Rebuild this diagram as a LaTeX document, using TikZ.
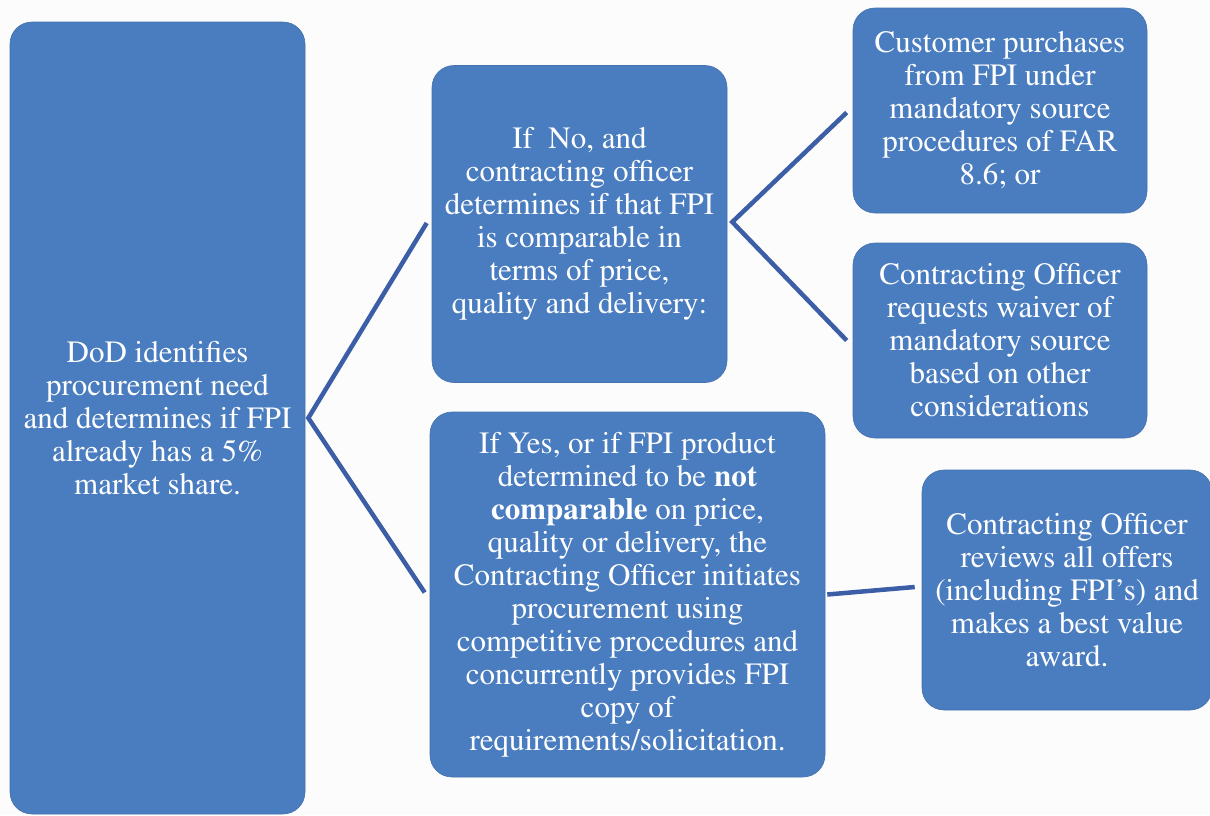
\documentclass[tikz,border=0pt]{standalone}
\usepackage[T1]{fontenc}
\usepackage{times}
\begin{document}
\definecolor{boxblue}{HTML}{4A7DBF}
\definecolor{linkblue}{HTML}{3C5EA6}
\definecolor{paper}{HTML}{FCFCFC}
\begin{tikzpicture}[x=1pt,y=-1pt,
  card/.style={rectangle, rounded corners=22pt, fill=boxblue, draw=boxblue!90!black, line width=0.6pt,
    text=white, align=center, inner sep=0pt,
    font=\rmfamily\fontsize{31}{33}\selectfont},
  link/.style={draw=linkblue, line width=4.5pt}]
\useasboundingbox (0,0) rectangle (1210,815);
\fill[paper] (0,0) rectangle (1210,815);

% boxes
\node[card, minimum width=295pt, minimum height=792pt] (a) at (157.5,418)
  {DoD identifies\\procurement need\\and determines if FPI\\already has a 5\%\\market share.};
\node[card, minimum width=295pt, minimum height=317pt] (b) at (579.5,224)
  {If~ No, and\\contracting officer\\determines if that FPI\\is comparable in\\terms of price,\\quality and delivery:};
\node[card, minimum width=294pt, minimum height=205pt] (c) at (1000,110.5)
  {Customer purchases\\from FPI under\\mandatory source\\procedures of FAR\\8.6; or};
\node[card, minimum width=294pt, minimum height=195pt] (d) at (1000,340.5)
  {Contracting Officer\\requests waiver of\\mandatory source\\based on other\\considerations};
\node[card, minimum width=395pt, minimum height=365pt] (e) at (627.5,594.5)
  {If Yes, or if FPI product\\determined to be \textbf{not}\\\textbf{comparable} on price,\\quality or delivery, the\\Contracting Officer initiates\\procurement using\\competitive procedures and\\concurrently provides FPI\\copy of\\requirements/solicitation.};
\node[card, minimum width=290pt, minimum height=240pt] (f) at (1067,590)
  {Contracting Officer\\reviews all offers\\(including FPI's) and\\makes a best value\\award.};

% connectors
\coordinate (ap) at ([xshift=3pt]a.east);
\draw[link] ([xshift=-5pt,yshift=1pt]b.west) -- (ap) -- ([xshift=-5pt,yshift=2pt]e.west);
\coordinate (bp) at ([xshift=5pt,yshift=2pt]b.east);
\draw[link] ([xshift=-6pt,yshift=-2pt]c.west) -- (bp) -- ([xshift=-6pt]d.west);
\draw[link] ([xshift=2pt]e.east) -- ([xshift=-7pt,yshift=3pt]f.west);
\end{tikzpicture}
\end{document}
